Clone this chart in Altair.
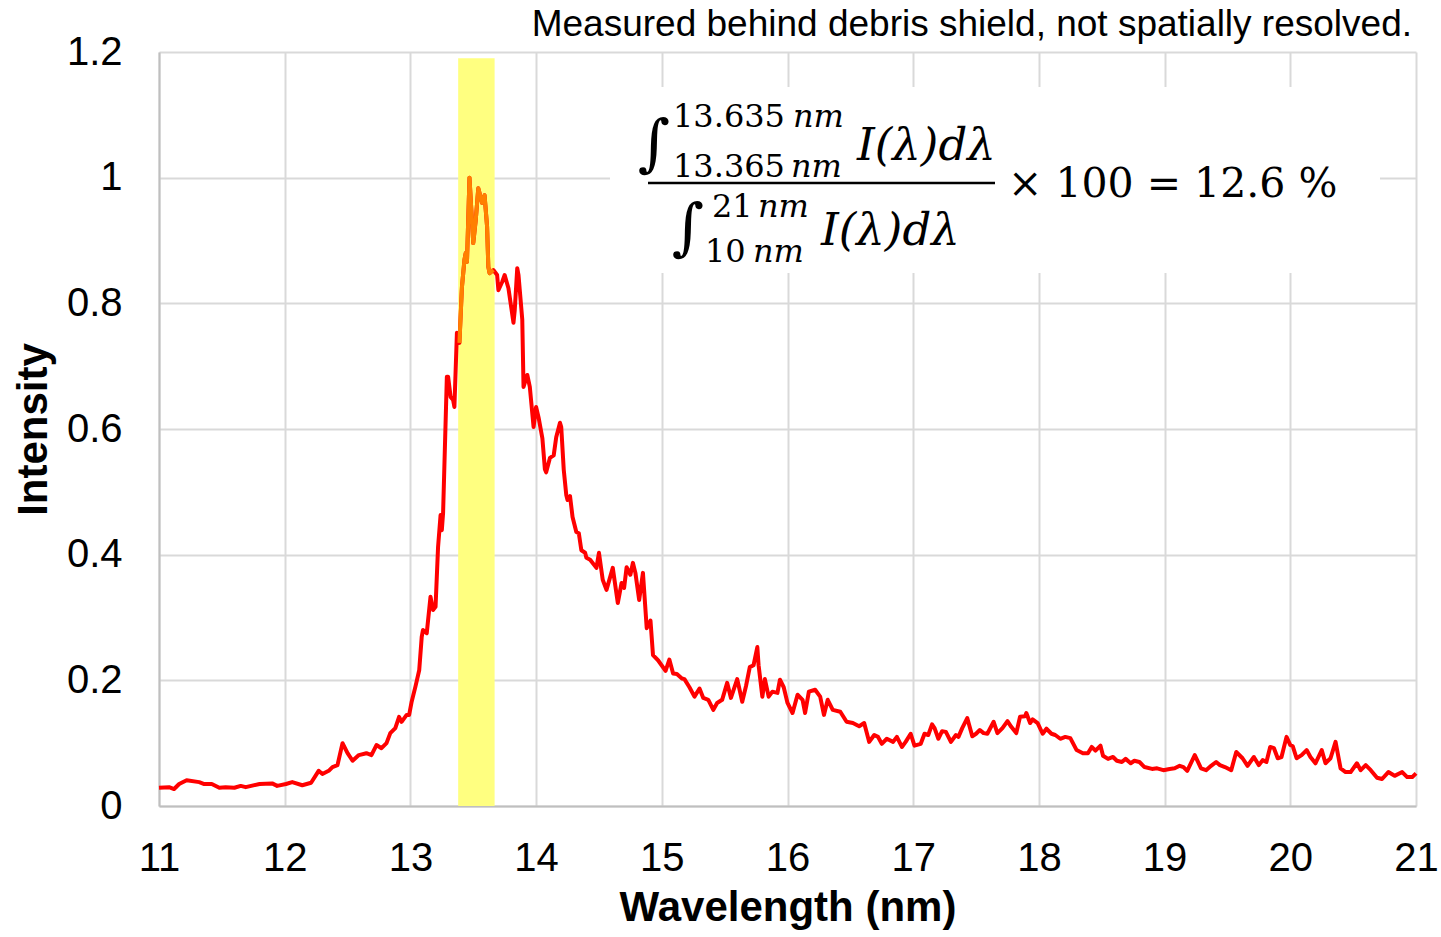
import altair as alt
import pandas as pd

# ---- data ----
wavelength = [
    11.00, 11.08, 11.12, 11.16, 11.22, 11.32, 11.36, 11.42, 11.48, 11.53, 11.60, 11.65, 11.69,
    11.80, 11.90, 11.94, 12.01, 12.06, 12.14, 12.21, 12.27, 12.30, 12.35, 12.38, 12.42, 12.46,
    12.50, 12.54, 12.59, 12.65, 12.69, 12.73, 12.77, 12.81, 12.84, 12.88, 12.91, 12.93, 12.97,
    12.99, 13.01, 13.04, 13.07, 13.09, 13.10, 13.13, 13.16, 13.18, 13.20, 13.22, 13.24, 13.25,
    13.26, 13.29, 13.30, 13.32, 13.34, 13.35, 13.37, 13.39, 13.41, 13.43, 13.44, 13.45, 13.47,
    13.50, 13.52, 13.54, 13.57, 13.59, 13.61, 13.62, 13.63, 13.66, 13.69, 13.70, 13.73, 13.75,
    13.78, 13.82, 13.83, 13.85, 13.86, 13.89, 13.90, 13.93, 13.95, 13.98, 14.00, 14.02, 14.05,
    14.07, 14.08, 14.11, 14.14, 14.16, 14.19, 14.20, 14.22, 14.24, 14.25, 14.27, 14.29, 14.32,
    14.34, 14.36, 14.39, 14.40, 14.43, 14.48, 14.50, 14.53, 14.56, 14.61, 14.65, 14.68, 14.70,
    14.72, 14.75, 14.77, 14.79, 14.82, 14.85, 14.88, 14.91, 14.93, 14.97, 15.03, 15.06, 15.09,
    15.12, 15.16, 15.18, 15.22, 15.26, 15.30, 15.33, 15.37, 15.41, 15.44, 15.48, 15.52, 15.55,
    15.60, 15.64, 15.67, 15.70, 15.73, 15.76, 15.77, 15.80, 15.82, 15.85, 15.88, 15.92, 15.94,
    15.97, 16.00, 16.04, 16.08, 16.12, 16.14, 16.17, 16.22, 16.26, 16.29, 16.32, 16.36, 16.42,
    16.47, 16.52, 16.57, 16.61, 16.65, 16.69, 16.72, 16.75, 16.79, 16.84, 16.87, 16.91, 16.94,
    16.98, 17.01, 17.06, 17.09, 17.12, 17.15, 17.17, 17.20, 17.23, 17.26, 17.30, 17.34, 17.36,
    17.39, 17.43, 17.47, 17.50, 17.53, 17.56, 17.59, 17.64, 17.67, 17.71, 17.75, 17.78, 17.82,
    17.85, 17.89, 17.90, 17.93, 17.95, 17.99, 18.03, 18.06, 18.10, 18.13, 18.17, 18.21, 18.25,
    18.30, 18.35, 18.39, 18.42, 18.45, 18.49, 18.51, 18.55, 18.59, 18.62, 18.66, 18.69, 18.73,
    18.76, 18.80, 18.84, 18.90, 18.94, 18.99, 19.04, 19.08, 19.12, 19.15, 19.18, 19.24, 19.29,
    19.33, 19.37, 19.41, 19.44, 19.48, 19.53, 19.57, 19.62, 19.66, 19.71, 19.75, 19.78, 19.81,
    19.84, 19.87, 19.90, 19.93, 19.97, 20.00, 20.02, 20.05, 20.09, 20.13, 20.16, 20.20, 20.25,
    20.28, 20.32, 20.36, 20.40, 20.44, 20.48, 20.53, 20.56, 20.60, 20.64, 20.69, 20.73, 20.78,
    20.83, 20.89, 20.93, 20.97, 21.00,
]
intensity = [
    0.029, 0.030, 0.027, 0.035, 0.041, 0.038, 0.035, 0.035, 0.029, 0.030, 0.029, 0.032, 0.030,
    0.035, 0.036, 0.032, 0.035, 0.038, 0.033, 0.037, 0.056, 0.051, 0.056, 0.062, 0.065, 0.100,
    0.084, 0.072, 0.081, 0.084, 0.081, 0.097, 0.092, 0.100, 0.116, 0.124, 0.142, 0.134, 0.145,
    0.145, 0.166, 0.190, 0.216, 0.269, 0.280, 0.275, 0.333, 0.312, 0.317, 0.412, 0.463, 0.439,
    0.466, 0.683, 0.683, 0.651, 0.646, 0.635, 0.753, 0.737, 0.826, 0.869, 0.880, 0.866, 1.000,
    0.896, 0.933, 0.983, 0.960, 0.972, 0.922, 0.858, 0.848, 0.853, 0.845, 0.821, 0.834, 0.845,
    0.824, 0.769, 0.789, 0.856, 0.845, 0.774, 0.667, 0.686, 0.667, 0.603, 0.635, 0.618, 0.585,
    0.536, 0.531, 0.554, 0.558, 0.587, 0.610, 0.603, 0.535, 0.495, 0.487, 0.493, 0.460, 0.436,
    0.434, 0.407, 0.403, 0.395, 0.392, 0.379, 0.403, 0.360, 0.344, 0.379, 0.323, 0.355, 0.347,
    0.380, 0.368, 0.387, 0.371, 0.328, 0.371, 0.283, 0.295, 0.240, 0.232, 0.215, 0.233, 0.211,
    0.210, 0.203, 0.202, 0.189, 0.174, 0.187, 0.172, 0.169, 0.153, 0.164, 0.169, 0.196, 0.172,
    0.202, 0.166, 0.191, 0.221, 0.224, 0.253, 0.224, 0.174, 0.202, 0.174, 0.182, 0.180, 0.201,
    0.189, 0.164, 0.148, 0.177, 0.169, 0.148, 0.182, 0.185, 0.174, 0.145, 0.169, 0.153, 0.150,
    0.134, 0.132, 0.127, 0.132, 0.102, 0.113, 0.110, 0.099, 0.107, 0.102, 0.110, 0.094, 0.102,
    0.115, 0.096, 0.099, 0.115, 0.113, 0.130, 0.124, 0.107, 0.119, 0.118, 0.102, 0.113, 0.110,
    0.124, 0.140, 0.111, 0.115, 0.121, 0.116, 0.115, 0.134, 0.116, 0.124, 0.135, 0.126, 0.116,
    0.142, 0.143, 0.148, 0.132, 0.138, 0.132, 0.115, 0.123, 0.115, 0.113, 0.107, 0.110, 0.108,
    0.089, 0.084, 0.084, 0.094, 0.088, 0.096, 0.080, 0.075, 0.078, 0.072, 0.070, 0.075, 0.068,
    0.072, 0.070, 0.062, 0.059, 0.060, 0.057, 0.059, 0.060, 0.064, 0.062, 0.056, 0.081, 0.060,
    0.057, 0.064, 0.070, 0.065, 0.062, 0.057, 0.086, 0.076, 0.064, 0.078, 0.065, 0.073, 0.070,
    0.094, 0.092, 0.076, 0.078, 0.110, 0.097, 0.095, 0.076, 0.081, 0.089, 0.078, 0.068, 0.089,
    0.068, 0.076, 0.102, 0.060, 0.054, 0.054, 0.068, 0.057, 0.065, 0.057, 0.045, 0.043, 0.054,
    0.048, 0.054, 0.046, 0.046, 0.052,
]

band_start = [13.38]
band_end = [13.67]
band_bottom = [0.0]
band_top = [1.19]
highlight_range = [13.385, 13.68]

x_ticks = [11, 12, 13, 14, 15, 16, 17, 18, 19, 20, 21]
y_ticks = [0, 0.2, 0.4, 0.6, 0.8, 1.0, 1.2]

note_text = "Measured behind debris shield, not spatially resolved."

df = pd.DataFrame({"wavelength": wavelength, "intensity": intensity})
band_df = pd.DataFrame({"wavelength": band_start, "wavelength_end": band_end,
                        "intensity": band_bottom, "intensity_end": band_top})

SANS = "Liberation Sans"
SERIF = "DejaVu Serif"
GRID = "#D9D9D9"

x_scale = alt.Scale(domain=[11, 21], nice=False, zero=False)
y_scale = alt.Scale(domain=[0, 1.2], nice=False, zero=True)

x_axis = alt.Axis(values=x_ticks, title="Wavelength (nm)", ticks=False, format="d",
                  labelFont=SANS, labelFontSize=40, labelColor="black", labelPadding=32,
                  labelFlush=False, labelOverlap=False,
                  titleFont=SANS, titleFontSize=42, titleFontWeight="bold", titleColor="black",
                  titleBaseline="alphabetic", titleY=114,
                  grid=True, gridColor=GRID, gridWidth=2,
                  domainColor="#BFBFBF", domainWidth=2)
y_axis = alt.Axis(values=y_ticks, title="Intensity", ticks=False, format=".1~f",
                  labelFont=SANS, labelFontSize=40, labelColor="black", labelPadding=37,
                  labelFlush=False, labelOverlap=False,
                  titleFont=SANS, titleFontSize=42, titleFontWeight="bold", titleColor="black",
                  titleBaseline="alphabetic", titleX=-113,
                  grid=True, gridColor=GRID, gridWidth=2,
                  domainColor="#BFBFBF", domainWidth=2)

X = alt.X("wavelength:Q", scale=x_scale, axis=x_axis)
Y = alt.Y("intensity:Q", scale=y_scale, axis=y_axis)

band = alt.Chart(band_df).mark_rect(color="#FFFF80").encode(
    x=X, x2="wavelength_end:Q", y=Y, y2="intensity_end:Q")

red_line = alt.Chart(df).mark_line(color="#FF0000", strokeWidth=4, strokeJoin="round").encode(
    x=X, y=Y)

orange_line = alt.Chart(df).transform_filter(
    alt.FieldRangePredicate(field="wavelength", range=highlight_range)
).mark_line(color="#FF8000", strokeWidth=4, strokeJoin="round").encode(x=X, y=Y)


def one(text=""):
    return alt.Chart(pd.DataFrame({"label": [text]}))


def label(text, x, y, size, font=SERIF, style="normal", weight="normal", align="left"):
    return one(text).mark_text(align=align, baseline="alphabetic", font=font, fontSize=size,
                               fontStyle=style, fontWeight=weight, color="black").encode(
        x=alt.value(x), y=alt.value(y), text="label:N")


box = one().mark_rect(color="white").encode(
    x=alt.value(451), x2=alt.value(1221), y=alt.value(35), y2=alt.value(221))
frac_line = one().mark_rule(color="black", strokeWidth=2.5).encode(
    x=alt.value(489), x2=alt.value(836), y=alt.value(131))

formula = [
    box,
    # numerator
    label("\u222b", 511, 112, 62, align="right"),
    label("13.635", 514, 75, 32),
    label("nm", 634, 75, 32, style="italic"),
    label("13.365", 514, 125, 32),
    label("nm", 632, 125, 32, style="italic"),
    label("I(\u03bb)d\u03bb", 698, 108, 45, style="italic"),
    frac_line,
    # denominator
    label("\u222b", 545, 196, 62, align="right"),
    label("21", 553, 165, 32),
    label("nm", 599, 165, 32, style="italic"),
    label("10", 546, 210, 32),
    label("nm", 594, 210, 32, style="italic"),
    label("I(\u03bb)d\u03bb", 662, 193, 45, style="italic"),
    # result
    label("\u00d7 100 = 12.6 %", 849, 145, 41),
]

note = label(note_text, 1253, -16, 37, font=SANS, align="right")

chart = alt.layer(band, red_line, orange_line, *formula, note).properties(
    width=1257, height=754,
    autosize=alt.AutoSizeParams(type="none"),
    padding={"left": 159, "top": 52, "right": 25, "bottom": 131},
    background="white",
).configure_view(strokeWidth=0)

chart.save("out.html", embed_options={"renderer": "svg", "actions": False})
